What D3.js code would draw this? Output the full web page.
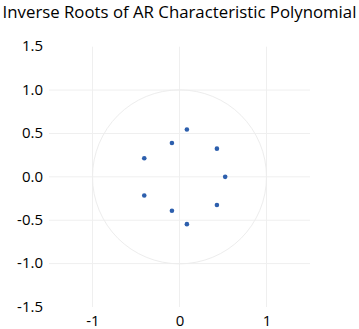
<!DOCTYPE html>
<html>
<head>
<meta charset="utf-8">
<script src="https://cdn.jsdelivr.net/npm/d3@7"></script>
<style>
  body { margin: 0; background: #fff; }
  svg text { font-family: "Open Sans", sans-serif; fill: #000; }
</style>
</head>
<body>
<svg id="chart" width="359" height="329"></svg>
<script>
// inverse roots (real, imaginary)
const realParts = [0.085, 0.085, -0.087, -0.087, 0.43, 0.43, -0.405, -0.405, 0.525];
const imagParts = [0.545, -0.545, 0.39, -0.39, 0.325, -0.325, 0.215, -0.215, 0];
const xTicks = [-1, 0, 1];
const yTicks = [-1.5, -1, -0.5, 0, 0.5, 1, 1.5];
const yGrid = [-1, -0.5, 0, 0.5, 1];

const svg = d3.select("#chart");
const margin = { top: 46.7, right: 49, bottom: 22, left: 49 };
const width = 310 - margin.left;
const height = 307 - margin.top;

const x = d3.scaleLinear().domain([-1.5, 1.5]).range([0, width]);
const y = d3.scaleLinear().domain([-1.5, 1.5]).range([height, 0]);

// plain hyphen for negatives, like the original
const fmtY = d => d3.format(".1f")(d).replace("\u2212", "-");
const fmtX = d => d3.format("d")(d).replace("\u2212", "-");

svg.append("text")
    .attr("x", 179.5)
    .attr("y", 18)
    .attr("text-anchor", "middle")
    .style("font-size", "16.8px")
    .text("Inverse Roots of AR Characteristic Polynomial");

const g = svg.append("g")
    .attr("transform", `translate(${margin.left},${margin.top})`);

// grid
g.selectAll(".hgrid")
    .data(yGrid)
    .enter()
    .append("line")
    .attr("x1", 0)
    .attr("x2", width)
    .attr("y1", d => y(d))
    .attr("y2", d => y(d))
    .attr("stroke", "#efefef")
    .attr("stroke-width", 1);

g.selectAll(".vgrid")
    .data(xTicks)
    .enter()
    .append("line")
    .attr("x1", d => x(d))
    .attr("x2", d => x(d))
    .attr("y1", 0)
    .attr("y2", height)
    .attr("stroke", "#efefef")
    .attr("stroke-width", 1);

// unit circle
g.append("circle")
    .attr("cx", x(0))
    .attr("cy", y(0))
    .attr("r", x(1) - x(0))
    .attr("fill", "none")
    .attr("stroke", "#ededed")
    .attr("stroke-width", 1);

// axes (labels only)
const yAxis = g.append("g")
    .call(d3.axisLeft(y).tickValues(yTicks).tickFormat(fmtY).tickSize(0).tickPadding(6));
yAxis.select(".domain").remove();
yAxis.selectAll("text")
    .style("font-size", "15px")
    .attr("dy", "0.28em");

const xAxis = g.append("g")
    .attr("transform", `translate(0,${height})`)
    .call(d3.axisBottom(x).tickValues(xTicks).tickFormat(fmtX).tickSize(0).tickPadding(8));
xAxis.select(".domain").remove();
xAxis.selectAll("text")
    .style("font-size", "15px");

// points
g.selectAll(".root")
    .data(realParts.map((r, i) => ({ re: r, im: imagParts[i] })))
    .enter()
    .append("circle")
    .attr("class", "root")
    .attr("cx", d => x(d.re))
    .attr("cy", d => y(d.im))
    .attr("r", 2.3)
    .attr("fill", "#2d5fad");
</script>
</body>
</html>
